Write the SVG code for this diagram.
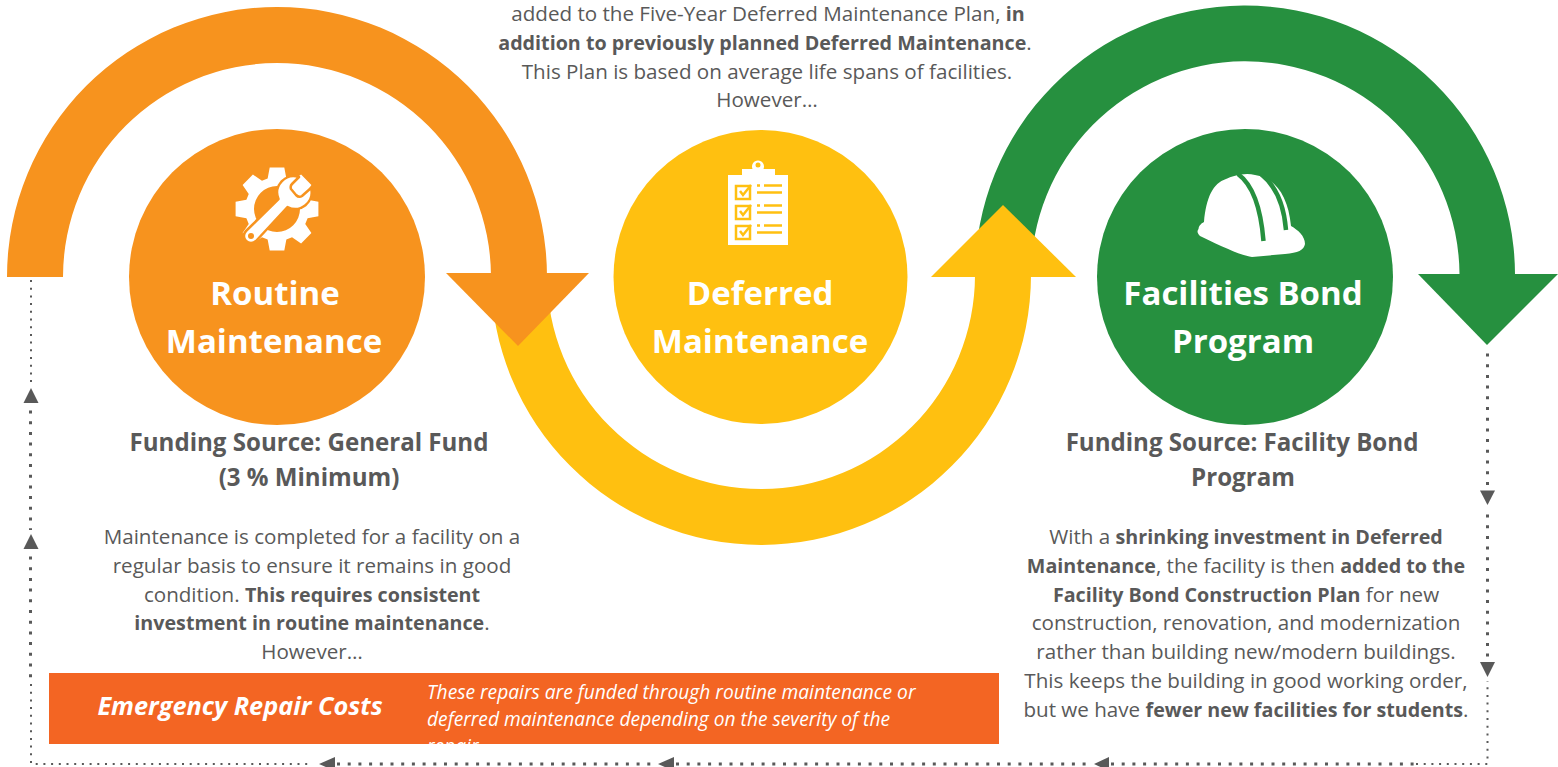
<svg xmlns="http://www.w3.org/2000/svg" width="1558" height="767" viewBox="0 0 1558 767">
<style>
text{font-family:"Open Sans","Noto Sans","Liberation Sans",sans-serif;fill:#595959;text-anchor:middle}
.b{font-weight:700;font-size:19.700px}
.p{font-size:20.600px}
.f{font-size:24.100px;font-weight:700}
.t{font-size:33px;font-weight:700;fill:#fff}
.big{fill:none;stroke:#595959;stroke-width:3;stroke-dasharray:3 7.700}
.small{fill:none;stroke:#595959;stroke-width:2;stroke-dasharray:2 5.700}
.h{fill:#595959}
</style>
<defs>
<clipPath id="boxclip"><rect x="49" y="673" width="950" height="71"/></clipPath>
</defs>
<rect width="1558" height="767" fill="#fff"/>
<g id="connectors">
<path class="small" d="M31 280V384"/>
<path class="big" d="M30.500 410.500V530"/>
<path class="big" d="M30.500 556.500V678"/>
<path class="small" d="M31 684V764H312"/>
<path class="big" d="M337 764H652"/>
<path class="big" d="M676 764H1088"/>
<path class="big" d="M1111 764H1416"/>
<path class="small" d="M1416 764H1487.500V681"/>
<path class="big" d="M1487.500 353.500V489"/>
<path class="big" d="M1487.500 514.500V660"/>
<polygon class="h" points="31,388 23.500,403 38.500,403"/>
<polygon class="h" points="31,534 23.500,549 38.500,549"/>
<polygon class="h" points="1487.500,505 1480,490.500 1495,490.500"/>
<polygon class="h" points="1487.500,677 1480,662 1495,662"/>
<polygon class="h" points="319,764 335,757 335,771"/>
<polygon class="h" points="658,764 674,757 674,771"/>
<polygon class="h" points="1094,764 1109,757 1109,771"/>
</g>
<g id="green-arrow">
<path fill="#26903F" d="M975 277A270 270 0 0 1 1515 274H1459.500A214 214 0 0 0 1031 277Z"/>
<polygon fill="#26903F" points="1418,274 1558,274 1487,345"/>
</g>
<g id="yellow-arrow">
<path fill="#FFC010" d="M491 275A270 270 0 0 0 1031 275V277H975V275A214 214 0 0 1 547 275Z"/>
<polygon fill="#FFC010" points="931,277 1076,277 1003,205"/>
</g>
<g id="orange-arrow">
<path fill="#F7931E" d="M7 277A270 270 0 0 1 547 277H491A214 214 0 0 0 63 277Z"/>
<polygon fill="#F7931E" points="446,273 589,273 518,346"/>
</g>
<g id="routine">
<circle cx="277" cy="277" r="148" fill="#F7931E"/>
<g transform="translate(277 209)">
<path fill="#fff" fill-rule="evenodd" d="M30.600-9.360 41.400-7.300 41.400 7.300 30.600 9.360 28.250 15.020 34.400 24.090 24.090 34.400 15.020 28.250 9.360 30.600 7.300 41.400-7.300 41.400-9.360 30.600-15.020 28.250-24.090 34.400-34.400 24.090-28.250 15.020-30.600 9.360-41.400 7.300-41.400-7.300-30.600-9.360-28.250-15.020-34.400-24.090-24.090-34.400-15.020-28.250-9.360-30.600-7.300-41.400 7.300-41.400 9.360-30.600 15.020-28.250 24.090-34.400 34.400-24.090 28.250-15.020ZM23 0A23 23 0 1 0-23 0 23 23 0 1 0 23 0Z"/>
<path fill="#fff" stroke="#F7931E" stroke-width="2.500" stroke-linejoin="round" d="M22-32A16.500 16.500 0 0 0 1.500-10L-31 22A7 7 0 0 0-21 32L10.500-2A16.500 16.500 0 0 0 34-21L25-13Q22-11 19-14L14-20Q13-23 15-25Z"/>
<circle cx="-26" cy="27" r="3" fill="#F7931E"/>
</g>
<text class="t" x="275" y="304.500">Routine</text>
<text class="t" x="274" y="352.500">Maintenance</text>
</g>
<g id="deferred">
<circle cx="760.500" cy="277" r="147" fill="#FFC010"/>
<g>
<path fill="#fff" fill-rule="evenodd" d="M728 175H742V169H752.500A6 6 0 1 1 763.500 169H775V175H788V245H728ZM758 162.500A2.500 2.500 0 1 0 758 167.500 2.500 2.500 0 1 0 758 162.500Z"/>
<g fill="none" stroke="#FFC010" stroke-width="2.500">
<rect x="736" y="186" width="14" height="13"/><rect x="736" y="206" width="14" height="13"/><rect x="736" y="226" width="14" height="13"/>
<path d="M740 191l3 4 8-10M740 211l3 4 8-10M740 231l3 4 8-10"/>
<path d="M757 185.500H760M764 185.500H782M757 192.500H782M757 205.500H760M764 205.500H782M757 212.500H782M757 225.500H760M764 225.500H782M757 232.500H782"/>
</g>
</g>
<text class="t" x="760" y="304.500">Deferred</text>
<text class="t" x="760" y="352.500">Maintenance</text>
</g>
<g id="bond">
<circle cx="1245" cy="277" r="148" fill="#26903F"/>
<path fill="#fff" d="M1198.500 229C1199 225 1202 223 1204 222 1206 198 1213 183 1226 179 1232 176 1245 172 1255 175 1275 178 1288 195 1291 226 1298 230 1305 236 1305 244 1304 250 1298 253 1285 254L1252 257C1240 255 1225 248 1200 236 1197 233 1197 231 1198.500 229Z"/>
<path fill="none" stroke="#26903F" stroke-width="4.500" d="M1238 174C1253 185 1261 210 1263.500 241M1261 174C1275 185 1284 205 1286 230"/>
<text class="t" x="1243" y="304.500">Facilities Bond</text>
<text class="t" x="1243" y="352.500">Program</text>
</g>
<g id="top-text">
<text class="p" x="768" y="21">added to the Five-Year Deferred Maintenance Plan, <tspan class="b">in</tspan></text>
<text class="p" x="765" y="50"><tspan class="b">addition to previously planned Deferred Maintenance</tspan>.</text>
<text class="p" x="767" y="79">This Plan is based on average life spans of facilities.</text>
<text class="p" x="767" y="107">However…</text>
</g>
<g id="routine-text">
<text class="f" x="309" y="451">Funding Source: General Fund</text>
<text class="f" x="309" y="486">(3 % Minimum)</text>
<text class="p" x="312" y="544">Maintenance is completed for a facility on a</text>
<text class="p" x="312" y="573">regular basis to ensure it remains in good</text>
<text class="p" x="312" y="602">condition. <tspan class="b">This requires consistent</tspan></text>
<text class="p" x="312" y="630"><tspan class="b">investment in routine maintenance</tspan>.</text>
<text class="p" x="312" y="659">However…</text>
</g>
<g id="bond-text">
<text class="f" x="1242" y="451">Funding Source: Facility Bond</text>
<text class="f" x="1243" y="486">Program</text>
<text class="p" x="1246" y="544">With a <tspan class="b">shrinking investment in Deferred</tspan></text>
<text class="p" x="1246" y="573"><tspan class="b">Maintenance</tspan>, the facility is then <tspan class="b">added to the</tspan></text>
<text class="p" x="1246" y="602"><tspan class="b">Facility Bond Construction Plan</tspan> for new</text>
<text class="p" x="1246" y="630">construction, renovation, and modernization</text>
<text class="p" x="1246" y="659">rather than building new/modern buildings.</text>
<text class="p" x="1246" y="688">This keeps the building in good working order,</text>
<text class="p" x="1246" y="717">but we have <tspan class="b">fewer new facilities for students</tspan>.</text>
</g>
<g id="emergency">
<rect x="49" y="673" width="950" height="71" fill="#F36523"/>
<text x="240" y="715" style="font-size:25.300px;font-weight:700;font-style:italic;fill:#fff">Emergency Repair Costs</text>
<g clip-path="url(#boxclip)" style="font-size:19.200px;font-style:italic">
<text x="427" y="699" style="text-anchor:start;fill:#fff">These repairs are funded through routine maintenance or</text>
<text x="427" y="726" style="text-anchor:start;fill:#fff">deferred maintenance depending on the severity of the</text>
<text x="427" y="753" style="text-anchor:start;fill:#fff">repair.</text>
</g>
</g>
</svg>
